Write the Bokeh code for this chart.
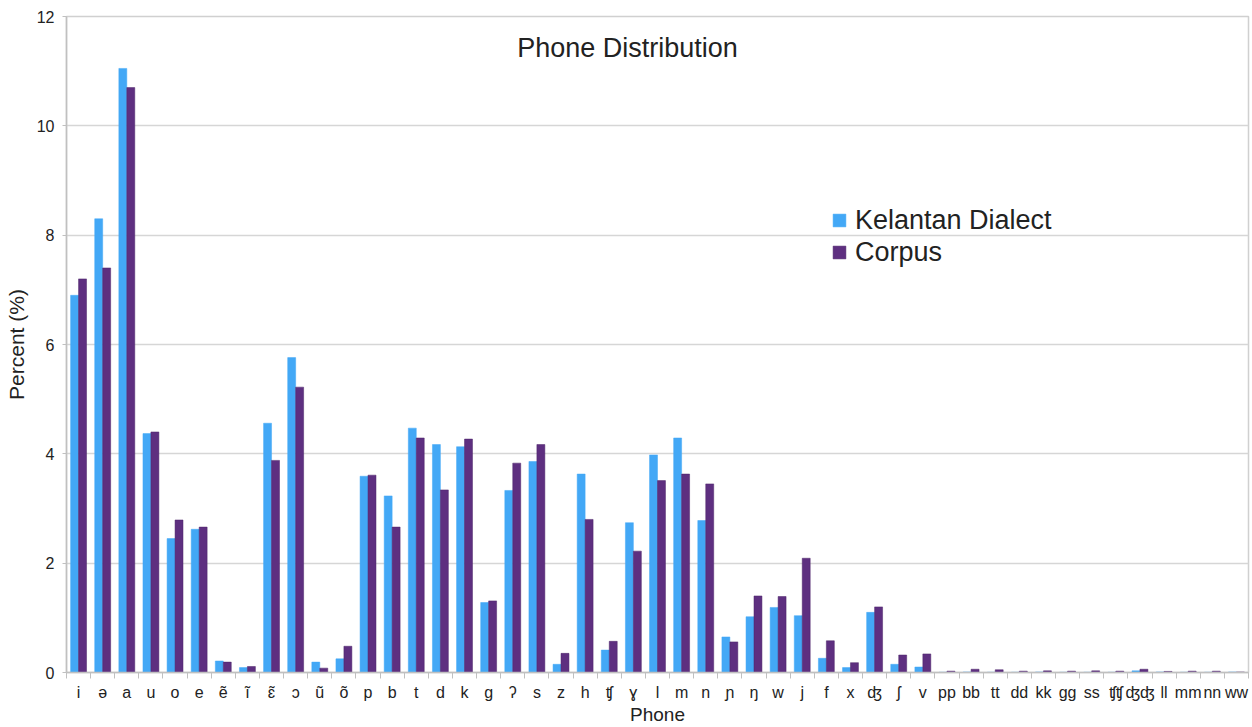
from bokeh.plotting import figure
from bokeh.models import FixedTicker, Label, ColumnDataSource
from bokeh.transform import dodge
from bokeh.embed import file_html
from bokeh.resources import INLINE

phones = ["i", "ə", "a", "u", "o", "e", "ẽ", "ĩ", "ɛ̃", "ɔ", "ũ", "õ",
          "p", "b", "t", "d", "k", "g", "ʔ", "s", "z", "h", "ʧ", "ɣ",
          "l", "m", "n", "ɲ", "ŋ", "w", "j", "f", "x", "ʤ", "ʃ", "v",
          "pp", "bb", "tt", "dd", "kk", "gg", "ss", "ʧʧ", "ʤʤ", "ll", "mm", "nn", "ww"]

kelantan = [6.9, 8.3, 11.05, 4.37, 2.45, 2.62, 0.21, 0.09, 4.56, 5.76, 0.19, 0.25,
            3.59, 3.23, 4.47, 4.17, 4.13, 1.28, 3.33, 3.86, 0.15, 3.63, 0.41, 2.74,
            3.98, 4.29, 2.78, 0.65, 1.02, 1.19, 1.04, 0.26, 0.09, 1.10, 0.15, 0.10,
            0.005, 0.01, 0.005, 0.005, 0.01, 0.005, 0.005, 0.005, 0.03, 0.01, 0.005, 0.005, 0.01]

corpus = [7.2, 7.4, 10.7, 4.4, 2.79, 2.66, 0.19, 0.11, 3.88, 5.22, 0.08, 0.48,
          3.61, 2.66, 4.29, 3.34, 4.27, 1.31, 3.83, 4.17, 0.35, 2.80, 0.57, 2.22,
          3.51, 3.63, 3.45, 0.56, 1.40, 1.39, 2.09, 0.58, 0.18, 1.20, 0.32, 0.34,
          0.025, 0.06, 0.05, 0.025, 0.03, 0.025, 0.03, 0.025, 0.06, 0.02, 0.025, 0.025, 0.01]

y_ticks = [0, 2, 4, 6, 8, 10, 12]

series_names = ["Kelantan Dialect", "Corpus"]
colors = ["#43a8f6", "#5e2f80"]

idx = list(range(len(phones)))
src = ColumnDataSource(dict(x=idx, kd=kelantan, co=corpus))

FONT = "'Liberation Sans', 'DejaVu Sans', sans-serif"

p = figure(width=1252, height=727, x_range=(-0.5, len(phones) - 0.5), y_range=(0, 12),
           output_backend="svg", toolbar_location=None,
           min_border_left=66, min_border_right=4, min_border_top=16, min_border_bottom=55)

p.vbar(x=dodge("x", -0.165, range=p.x_range), top="kd", width=0.33, source=src,
       fill_color=colors[0], line_color=colors[0], line_width=0.5, legend_label=series_names[0])
p.vbar(x=dodge("x", 0.165, range=p.x_range), top="co", width=0.33, source=src,
       fill_color=colors[1], line_color="#4c2468", line_width=0.5, legend_label=series_names[1])

# grid / outline
p.xgrid.visible = False
p.ygrid.grid_line_color = "#d6d6d6"
p.ygrid.grid_line_width = 1.5
p.outline_line_color = "#d0d0d0"
p.outline_line_width = 1.5
p.background_fill_color = "white"
p.border_fill_color = "white"

# x axis
xa = p.xaxis[0]
xa.ticker = FixedTicker(ticks=idx, minor_ticks=[i - 0.5 for i in range(len(phones) + 1)])
xa.major_label_overrides = {i: ph for i, ph in enumerate(phones)}
xa.major_tick_out = 0
xa.major_tick_in = 0
xa.minor_tick_out = 6
xa.minor_tick_in = 0
xa.minor_tick_line_color = "#c0c0c0"
xa.axis_line_color = "#c0c0c0"
xa.axis_line_width = 1.5
xa.major_label_text_font = FONT
xa.major_label_text_font_size = "16px"
xa.major_label_text_color = "#222222"
xa.major_label_standoff = 5
xa.axis_label = "Phone"
xa.axis_label_text_font = FONT
xa.axis_label_text_font_size = "19px"
xa.axis_label_text_font_style = "normal"
xa.axis_label_text_color = "#222222"
xa.axis_label_standoff = 0

# y axis
ya = p.yaxis[0]
ya.ticker = FixedTicker(ticks=y_ticks)
ya.minor_tick_line_color = None
ya.major_tick_out = 4
ya.major_tick_in = 0
ya.major_tick_line_color = "#c0c0c0"
ya.axis_line_color = "#c0c0c0"
ya.axis_line_width = 1.5
ya.major_label_text_font = FONT
ya.major_label_text_font_size = "16px"
ya.major_label_text_color = "#222222"
ya.major_label_standoff = 8
ya.axis_label = "Percent (%)"
ya.axis_label_text_font = FONT
ya.axis_label_text_font_size = "21px"
ya.axis_label_text_font_style = "normal"
ya.axis_label_text_color = "#222222"
ya.axis_label_standoff = 6

# title inside plot
p.add_layout(Label(x=561, y=625, x_units="screen", y_units="screen",
                   text="Phone Distribution", text_align="center", text_baseline="middle",
                   text_font=FONT, text_font_size="27px", text_color="#222222"))

# legend
lg = p.legend[0]
lg.location = (765, 404)
lg.background_fill_alpha = 0
lg.border_line_alpha = 0
lg.padding = 0
lg.margin = 0
lg.spacing = 0
lg.glyph_width = 16
lg.glyph_height = 16
lg.label_height = 32
lg.label_standoff = 8
lg.label_text_font = FONT
lg.label_text_font_size = "27px"
lg.label_text_color = "#222222"

open("out.html", "w").write(file_html(p, INLINE))
